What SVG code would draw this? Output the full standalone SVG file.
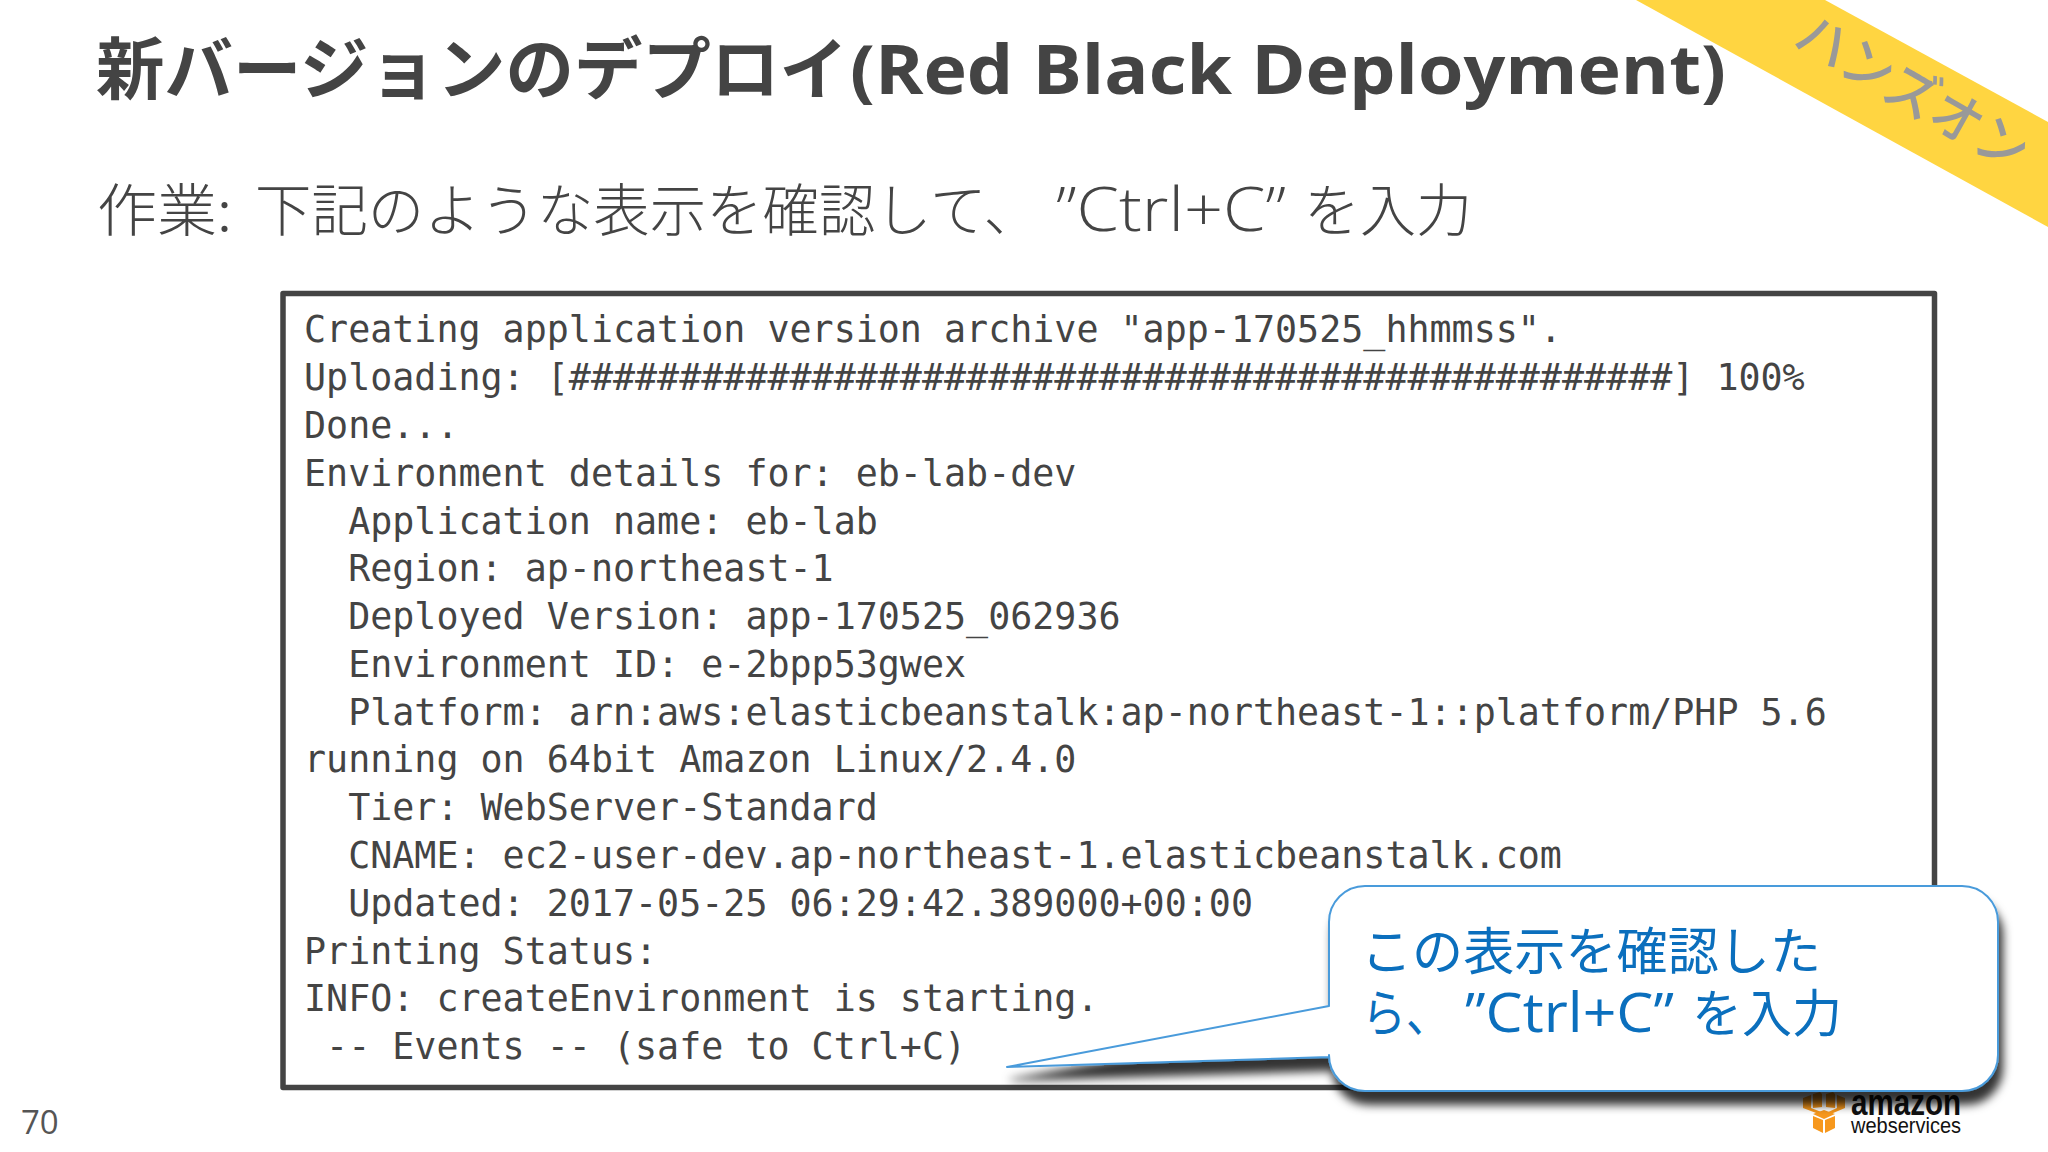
<svg xmlns="http://www.w3.org/2000/svg" width="2048" height="1152" viewBox="0 0 2048 1152">
<style>
.jp{font-family:"Noto Sans CJK JP","Noto Sans",sans-serif}
.lat{font-family:"Open Sans","Noto Sans CJK JP",sans-serif}
.title{font-size:68px;font-weight:700;fill:#444}
.sub{font-size:57px;font-weight:300;fill:#444}
.mono{font-family:"DejaVu Sans Mono","Liberation Mono",monospace;font-size:36.66px;fill:#444;white-space:pre}
.call{font-size:51px;font-weight:400;fill:#0b6fbd}
.cube{fill:#f7981d}
</style>
<defs>
<filter id="sh" x="-10%" y="-10%" width="125%" height="130%">
<feDropShadow dx="4" dy="13" stdDeviation="5" flood-color="#000" flood-opacity="0.8"/>
</filter>
</defs>
<rect width="2048" height="1152" fill="#fff"/>
<g id="banner">
<polygon points="1636,0 1825,0 2048,122 2048,227" fill="#ffd541"/>
<text class="jp" transform="translate(1791 45) rotate(30)" font-size="56" font-weight="500" fill="#999" textLength="258" lengthAdjust="spacingAndGlyphs">ハンズオン</text>
</g>
<g id="heading">
<text class="title" y="94"><tspan class="jp" x="96" textLength="752" lengthAdjust="spacingAndGlyphs">新バージョンのデプロイ</tspan><tspan class="lat" x="850" textLength="876" lengthAdjust="spacingAndGlyphs">(Red Black Deployment)</tspan></text>
<text class="sub" y="231"><tspan class="jp" x="97" textLength="135" lengthAdjust="spacingAndGlyphs">作業:</tspan><tspan class="jp" x="255" textLength="785" lengthAdjust="spacingAndGlyphs">下記のような表示を確認して、</tspan><tspan class="lat" x="1056" textLength="230" lengthAdjust="spacingAndGlyphs" font-size="60">”Ctrl+C”</tspan><tspan class="jp" x="1304" textLength="168" lengthAdjust="spacingAndGlyphs">を入力</tspan></text>
</g>
<g id="console">
<rect x="283" y="293.5" width="1651.5" height="794" fill="#fff" stroke="#444" stroke-width="5.5" stroke-linejoin="round"/>
<text class="mono" x="304" y="342">Creating application version archive "app-170525_hhmmss".</text>
<text class="mono" x="304" y="390">Uploading: [##################################################] 100%</text>
<text class="mono" x="304" y="437.8">Done...</text>
<text class="mono" x="304" y="485.6">Environment details for: eb-lab-dev</text>
<text class="mono" x="304" y="533.6">  Application name: eb-lab</text>
<text class="mono" x="304" y="581.4">  Region: ap-northeast-1</text>
<text class="mono" x="304" y="629">  Deployed Version: app-170525_062936</text>
<text class="mono" x="304" y="676.8">  Environment ID: e-2bpp53gwex</text>
<text class="mono" x="304" y="724.6">  Platform: arn:aws:elasticbeanstalk:ap-northeast-1::platform/PHP 5.6</text>
<text class="mono" x="304" y="772.4">running on 64bit Amazon Linux/2.4.0</text>
<text class="mono" x="304" y="820.2">  Tier: WebServer-Standard</text>
<text class="mono" x="304" y="868">  CNAME: ec2-user-dev.ap-northeast-1.elasticbeanstalk.com</text>
<text class="mono" x="304" y="915.8">  Updated: 2017-05-25 06:29:42.389000+00:00</text>
<text class="mono" x="304" y="963.6">Printing Status:</text>
<text class="mono" x="304" y="1011.4">INFO: createEnvironment is starting.</text>
<text class="mono" x="304" y="1059.2"> -- Events -- (safe to Ctrl+C)</text>
</g>
<g id="page-number">
<text x="21" y="1134" font-family="'Open Sans',sans-serif" font-size="33" fill="#555">70</text>
</g>
<g id="aws-logo">
<polygon class="cube" points="1803,1098 1811,1095 1811,1108 1824,1113 1824,1116 1803,1108"/>
<polygon class="cube" points="1813,1094 1820,1092 1822,1094 1822,1107 1813,1108"/>
<polygon class="cube" points="1826,1094 1833,1092 1835,1094 1835,1108 1826,1107"/>
<polygon class="cube" points="1837,1095 1845,1098 1845,1108 1826,1116 1826,1113 1837,1108"/>
<polygon class="cube" points="1824,1110 1835,1114 1824,1119 1813,1114"/>
<polygon class="cube" points="1813,1116 1823,1120 1823,1133 1813,1128"/>
<polygon class="cube" points="1835,1116 1825,1120 1825,1133 1835,1128"/>
<text x="1851" y="1115" font-family="'Liberation Sans',sans-serif" font-weight="700" font-size="36" fill="#111" textLength="110" lengthAdjust="spacingAndGlyphs">amazon</text>
<text x="1851" y="1132.5" font-family="'Liberation Sans',sans-serif" font-size="22" fill="#111" textLength="110" lengthAdjust="spacingAndGlyphs">webservices</text>
</g>
<g id="callout">
<path d="M1365,886H1962A36,36 0 0 1 1998,922V1055A36,36 0 0 1 1962,1091H1365A36,36 0 0 1 1329,1055V1057L1007,1067L1329,1006V922A36,36 0 0 1 1365,886Z" fill="#fff" stroke="#4a9bdb" stroke-width="2" stroke-linejoin="round" filter="url(#sh)"/>
<text class="call" y="970"><tspan class="jp" x="1361" textLength="460" lengthAdjust="spacingAndGlyphs">この表示を確認した</tspan></text>
<text class="call" y="1032"><tspan class="jp" x="1362" textLength="88" lengthAdjust="spacingAndGlyphs">ら、</tspan><tspan class="lat" x="1465" textLength="209" lengthAdjust="spacingAndGlyphs" font-size="54">”Ctrl+C”</tspan><tspan class="jp" x="1692" textLength="150" lengthAdjust="spacingAndGlyphs">を入力</tspan></text>
</g>
</svg>
